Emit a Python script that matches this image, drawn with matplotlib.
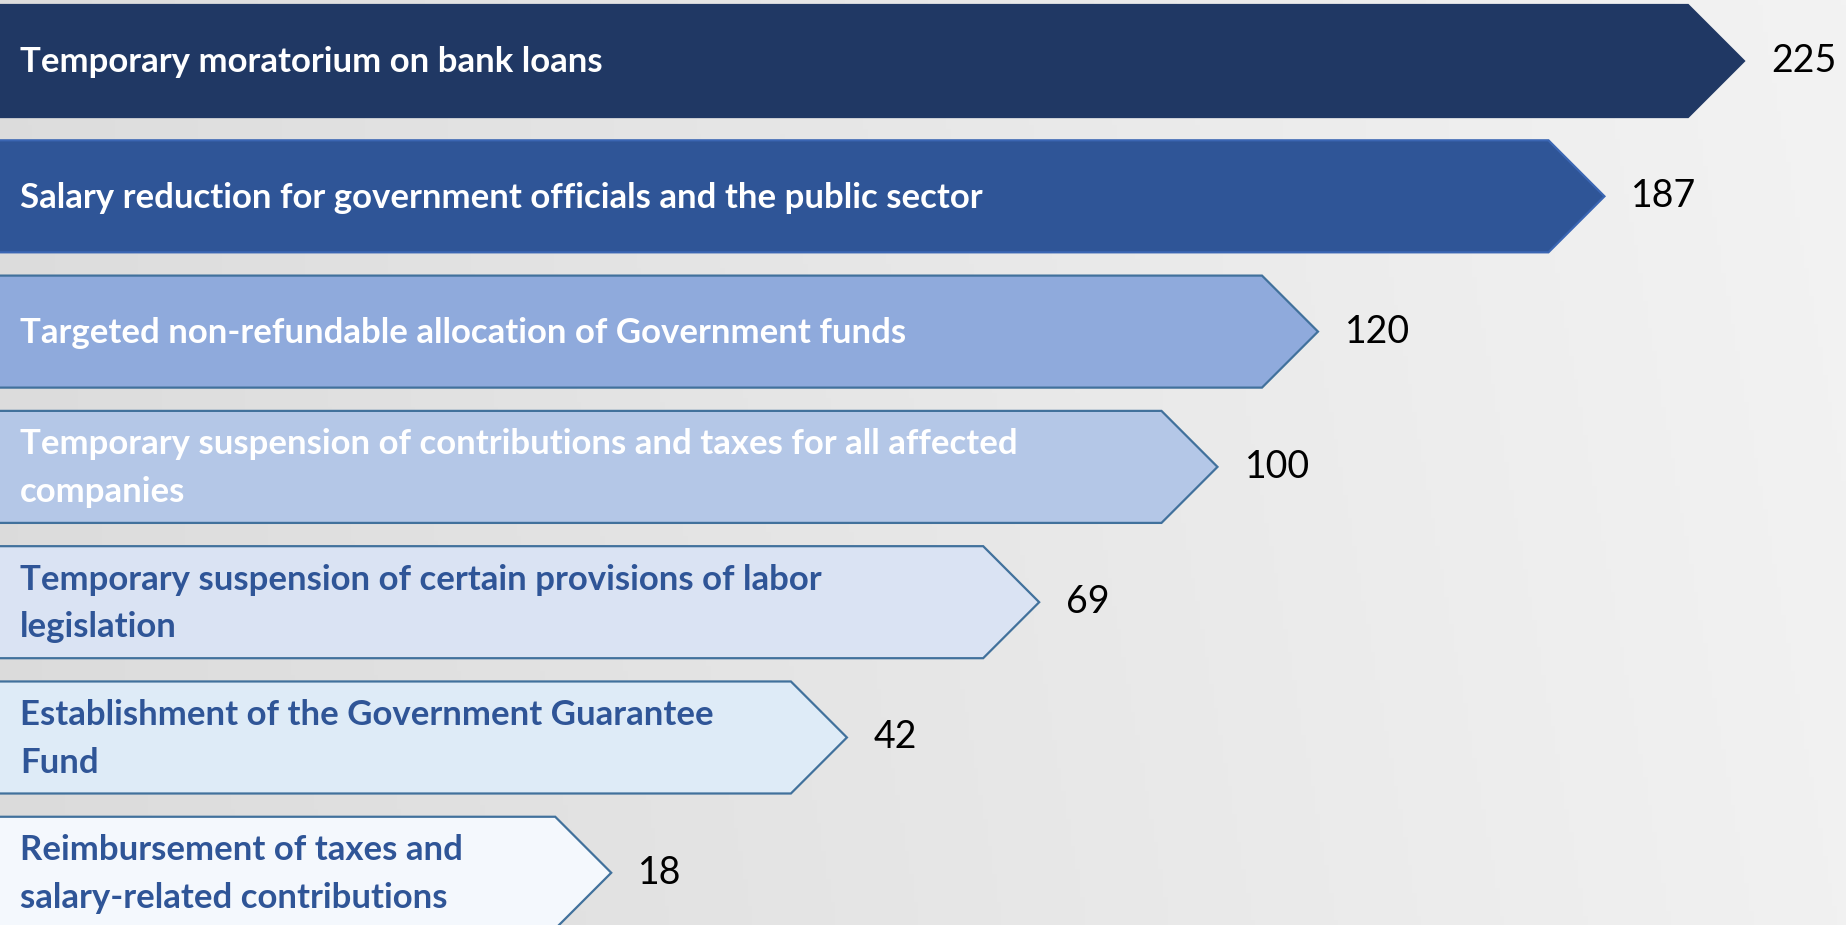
import numpy as np
import matplotlib
matplotlib.use("Agg")
import matplotlib.pyplot as plt
from matplotlib.patches import Polygon

# ---- data ----
categories = [
    "Temporary moratorium on bank loans",
    "Salary reduction for government officials and the public sector",
    "Targeted non-refundable allocation of Government funds",
    "Temporary suspension of contributions and taxes for all affected\ncompanies",
    "Temporary suspension of certain provisions of labor\nlegislation",
    "Establishment of the Government Guarantee\nFund",
    "Reimbursement of taxes and\nsalary-related contributions",
]
values = [225, 187, 120, 100, 69, 42, 18]
value_labels = ["225", "187", "120", "100", "69", "42", "18"]

# ---- styles ----
fill_colors = ["#203864", "#2F5597", "#8FAADC", "#B4C7E7", "#DAE3F3", "#DEEBF7", "#F4F8FD"]
edge_colors = ["#203864", "#3B66B3", "#41719C", "#41719C", "#41719C", "#41719C", "#41719C"]
text_colors = ["white", "white", "white", "white", "#2F5597", "#2F5597", "#2F5597"]

W, H, DPI = 1846, 925, 100
fig = plt.figure(figsize=(W / DPI, H / DPI), dpi=DPI)

# background gradient
bg = fig.add_axes([0, 0, 1, 1], zorder=0)
bg.set_axis_off()
xx, yy = np.meshgrid(np.linspace(0, 1, 400), np.linspace(0, 1, 200))
t = np.clip(xx * 0.92 + (1 - yy) * 0.08, 0, 1)
g = (219 + 24 * t) / 255.0
bg.imshow(np.dstack([g, g, g]), aspect="auto", extent=[0, 1, 0, 1], origin="upper")
bg.set_xlim(0, 1)
bg.set_ylim(0, 1)

ax = fig.add_axes([0, 0, 1, 1], zorder=1)
ax.patch.set_alpha(0)


def fwd(v):
    v = np.asarray(v, dtype=float)
    return np.sign(v) * np.sqrt(np.abs(v))


def inv(u):
    u = np.asarray(u, dtype=float)
    return np.sign(u) * u ** 2


ax.set_xscale("function", functions=(fwd, inv))
x_left = -2.44
ax.set_xlim(x_left, 255.0)
ax.set_ylim(6.386, -0.451)
ax.set_axis_off()

bar_h = 0.828
tip_px = 56
lab_px = 27

fig.canvas.draw()
for i, (cat, v, lab) in enumerate(zip(categories, values, value_labels)):
    tip_disp = ax.transData.transform((v, i))
    shoulder_x = ax.transData.inverted().transform((tip_disp[0] - tip_px, tip_disp[1]))[0]
    top, bot = i - bar_h / 2, i + bar_h / 2
    pts = [(x_left - 1, top), (shoulder_x, top), (v, i), (shoulder_x, bot), (x_left - 1, bot)]
    ax.add_patch(Polygon(pts, closed=True, facecolor=fill_colors[i],
                         edgecolor=edge_colors[i], linewidth=1.6, joinstyle="miter"))
    ax.text(20 / W, i + 0.01, cat, transform=ax.get_yaxis_transform(), ha="left", va="center",
            fontsize=25, fontweight="bold", family="Lato", color=text_colors[i],
            linespacing=1.6)
    lx = ax.transData.inverted().transform((tip_disp[0] + lab_px, tip_disp[1]))[0]
    ax.text(lx, i, lab, ha="left", va="center", fontsize=27, family="Lato", color="black")

fig.savefig("out.png", dpi=DPI)
